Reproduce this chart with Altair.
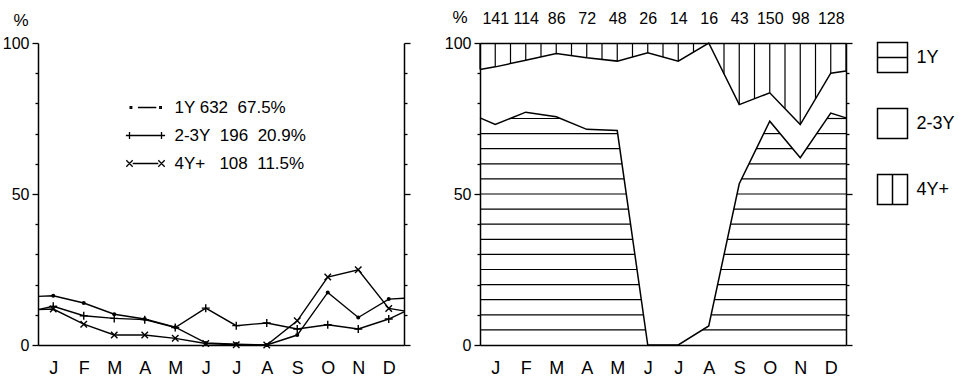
import json
import altair as alt
import numpy as np
import pandas as pd

FONT = "Liberation Sans"

# ---------------- data ----------------
months = ["J", "F", "M", "A", "M", "J", "J", "A", "S", "O", "N", "D"]
month_idx = list(range(1, 13))

# left panel: monthly share (%) of each age group's annual total
series_names = ["1Y", "2-3Y", "4Y+"]
pct_1y = [16.3, 13.9, 10.2, 8.6, 5.9, 0.7, 0.3, 0.0, 3.3, 17.4, 9.1, 15.2]
pct_23y = [12.8, 9.7, 8.8, 8.4, 5.8, 12.2, 6.4, 7.3, 5.3, 6.7, 5.3, 8.6]
pct_4y = [11.9, 6.9, 3.3, 3.3, 2.2, 0.5, 0.1, 0.0, 8.0, 22.5, 24.9, 12.1]
# values where the curves meet the left / right frame
edge_1y = [16.1, 15.5]
edge_23y = [11.7, 11.0]
edge_4y = [11.7, 11.3]
legend_left = ["1Y 632\u00a0\u00a067.5%", "2-3Y\u00a0\u00a0196\u00a0\u00a020.9%", "4Y+\u00a0\u00a0\u00a0108\u00a0\u00a011.5%"]

# right panel: monthly composition (cumulative %)
counts = [141, 114, 86, 72, 48, 26, 14, 16, 43, 150, 98, 128]
cum_1y = [73.0, 77.1, 75.6, 71.4, 71.0, 0.0, 0.0, 6.3, 53.4, 74.1, 62.0, 76.8]
cum_23y = [92.1, 94.3, 96.5, 95.1, 94.0, 96.8, 94.0, 100.0, 79.6, 83.5, 73.0, 90.0]
edge_cum_1y = [75.2, 75.2]
edge_cum_23y = [91.2, 90.7]
legend_right = ["1Y", "2-3Y", "4Y+"]

# ---------------- helpers ----------------
X_LO, X_HI = 0.5, 12.5
xs_full = [X_LO] + month_idx + [X_HI]


def full(edge, vals):
    return [edge[0]] + list(vals) + [edge[1]]


def xscale():
    return alt.Scale(domain=[X_LO, X_HI], nice=False, zero=False)


def yscale():
    return alt.Scale(domain=[0, 100], nice=False, zero=True)


W, H = 366, 302
tick_cond = {"condition": {"test": "datum.value % 50 === 0", "value": 6}, "value": 3}
month_expr = json.dumps(months) + "[round(datum.value) - 1]"
count_expr = json.dumps([str(c) for c in counts]) + "[round(datum.value) - 1]"
yvals = list(range(0, 101, 10))


def x_bottom():
    return alt.Axis(values=month_idx, labelExpr=month_expr, ticks=False, tickSize=0,
                    labelFontSize=18, labelPadding=14, labelAngle=0, title=None, grid=False)


def y_left(tx, ty):
    return alt.Axis(values=yvals, labelExpr="datum.value % 50 === 0 ? datum.label : ''",
                    tickSize=tick_cond, labelPadding=3, labelFontSize=16, grid=False,
                    title="%", titleAngle=0, titleX=tx, titleY=ty, titleFontSize=17,
                    titleFontWeight="normal", titleAlign="center", titleBaseline="middle")


def y_right():
    return alt.Axis(orient="right", values=yvals, labels=False, tickSize=tick_cond,
                    title=None, grid=False)


# ---------------- left panel ----------------
rows = []
for name, edge, vals in zip(series_names, [edge_1y, edge_23y, edge_4y], [pct_1y, pct_23y, pct_4y]):
    for x, v in zip(xs_full, full(edge, vals)):
        rows.append({"x": x, "v": v, "s": name})
line_df = pd.DataFrame(rows)

pts = []
for name, vals in zip(series_names, [pct_1y, pct_23y, pct_4y]):
    for x, v in zip(month_idx, vals):
        pts.append({"x": x, "v": v, "s": name})
pt_df = pd.DataFrame(pts)

left_lines = alt.Chart(line_df).mark_line(color="black", strokeWidth=1.4).encode(
    x=alt.X("x:Q", scale=xscale(), axis=x_bottom()),
    y=alt.Y("v:Q", scale=yscale(), axis=y_left(-17.5, -23)),
    detail="s:N",
)
left_raxis = alt.Chart(line_df).mark_line(opacity=0).encode(
    x=alt.X("x:Q", scale=xscale(), axis=None),
    y=alt.Y("v:Q", scale=yscale(), axis=y_right()),
    detail="s:N",
)

PLUS = "M-1,0H1M0,-1V1"
CROSS = "M-1,-1L1,1M-1,1L1,-1"
marker_specs = {
    "1Y": dict(shape="circle", size=16, filled=True),
    "2-3Y": dict(shape=PLUS, size=64, filled=False),
    "4Y+": dict(shape=CROSS, size=42, filled=False),
}
marker_layers = []
for name in series_names:
    spec = marker_specs[name]
    marker_layers.append(
        alt.Chart(pt_df).transform_filter(alt.datum.s == name).mark_point(
            color="black", strokeWidth=1.4, opacity=1, **spec
        ).encode(
            x=alt.X("x:Q", scale=xscale(), axis=None),
            y=alt.Y("v:Q", scale=yscale(), axis=None),
        )
    )

SYM_DOT = "M-1.92,-0.1h0.2v0.2h-0.2Z M-0.95,0H1.35 M1.78,-0.1h0.2v0.2h-0.2Z"
SYM_PLUS = "M-2.45,0H2.45 M-2,-0.45V0.45 M2,-0.45V0.45"
SYM_CROSS = ("M-2.4,-0.4L-1.6,0.4M-2.4,0.4L-1.6,-0.4M-1.6,0H1.6"
             "M1.6,-0.4L2.4,0.4M1.6,0.4L2.4,-0.4")
leg_left_df = pd.DataFrame({"lab": legend_left})
left_legend = alt.Chart(leg_left_df).transform_filter("false").mark_point(
    filled=False, color="black", strokeWidth=1.3
).encode(
    shape=alt.Shape(
        "lab:N",
        scale=alt.Scale(domain=legend_left, range=[SYM_DOT, SYM_PLUS, SYM_CROSS]),
        legend=alt.Legend(orient="none", legendX=98.5, legendY=55.5, title=None, padding=0,
                          symbolSize=256, symbolStrokeWidth=1.3, symbolOpacity=1,
                          symbolStrokeColor="black",
                          labelFont=FONT, labelFontSize=17, labelColor="black",
                          labelOffset=20, rowPadding=11, labelLimit=400),
    )
)

left = alt.layer(left_lines, left_raxis, *marker_layers, left_legend).resolve_axis(
    x="independent", y="independent"
).properties(width=W, height=H)

# ---------------- right panel ----------------
c1 = full(edge_cum_1y, cum_1y)
c2 = full(edge_cum_23y, cum_23y)


def above_intervals(xs, ys, lv):
    out = []
    start = xs[0] if ys[0] > lv else None
    for i in range(len(xs) - 1):
        x0, x1, y0, y1 = xs[i], xs[i + 1], ys[i], ys[i + 1]
        a0, a1 = y0 > lv, y1 > lv
        if a0 != a1:
            xc = x0 + (lv - y0) * (x1 - x0) / (y1 - y0)
            if a0:
                out.append((start, xc))
                start = None
            else:
                start = xc
    if start is not None:
        out.append((start, xs[-1]))
    return out


h_rows = []
for lv in range(5, 100, 5):
    for a, b in above_intervals(xs_full, c1, lv):
        h_rows.append({"xa": a, "xb": b, "lv": lv})
hatch_h_df = pd.DataFrame(h_rows)

xv = np.arange(X_LO, X_HI + 0.001, 0.5)
hatch_v_df = pd.DataFrame({"xv": xv, "ylo": np.interp(xv, xs_full, c2)})

bound_rows = []
for key, arr in [("c1", c1), ("c2", c2)]:
    for x, v in zip(xs_full, arr):
        bound_rows.append({"x": x, "v": v, "s": key})
bound_df = pd.DataFrame(bound_rows)

r_hatch_h = alt.Chart(hatch_h_df).mark_rule(color="black", strokeWidth=1.2).encode(
    x=alt.X("xa:Q", scale=xscale(), axis=None),
    x2="xb:Q",
    y=alt.Y("lv:Q", scale=yscale(), axis=None),
)
r_hatch_v = alt.Chart(hatch_v_df).mark_rule(color="black", strokeWidth=1.2).encode(
    x=alt.X("xv:Q", scale=xscale(), axis=None),
    y=alt.Y("ylo:Q", scale=yscale(), axis=None),
    y2=alt.datum(100),
)
r_lines = alt.Chart(bound_df).mark_line(color="black", strokeWidth=1.5).encode(
    x=alt.X("x:Q", scale=xscale(), axis=x_bottom()),
    y=alt.Y("v:Q", scale=yscale(), axis=y_left(-20.5, -26)),
    detail="s:N",
)
r_axes2 = alt.Chart(bound_df).mark_line(opacity=0).encode(
    x=alt.X("x:Q", scale=xscale(),
            axis=alt.Axis(orient="top", values=month_idx, labelExpr=count_expr, ticks=False,
                          tickSize=0, labelFontSize=16, labelPadding=17, labelAngle=0,
                          title=None, grid=False)),
    y=alt.Y("v:Q", scale=yscale(), axis=y_right()),
    detail="s:N",
)

BOX = "M-1,-1H1V1H-1Z"
leg_right_df = pd.DataFrame({"cat": legend_right})
right_legend = alt.Chart(leg_right_df).transform_filter("false").mark_point(
    filled=False, color="black", strokeWidth=1.5
).encode(
    shape=alt.Shape(
        "cat:N",
        scale=alt.Scale(domain=legend_right, range=[BOX + "M-1,0H1", BOX, BOX + "M0,-1V1"]),
        legend=alt.Legend(orient="none", legendX=396.5, legendY=-1.5, title=None, padding=0,
                          symbolSize=900, symbolStrokeWidth=1.5, symbolOpacity=1,
                          symbolStrokeColor="black", labelFont=FONT, labelFontSize=18,
                          labelColor="black", labelOffset=8, rowPadding=30),
    )
)

right = alt.layer(r_hatch_h, r_hatch_v, r_lines, r_axes2, right_legend).resolve_axis(
    x="independent", y="independent"
).properties(width=W, height=H)

chart = alt.hconcat(left, right, spacing=76, bounds="flush").resolve_scale(
    shape="independent"
).resolve_legend(shape="independent").properties(
    padding={"left": 2, "top": 8, "right": 0, "bottom": 0},
    background="white",
).configure_view(stroke=None).configure_axis(
    domainColor="black", domainWidth=1.5, tickColor="black", tickWidth=1.3,
    labelColor="black", labelFont=FONT, titleFont=FONT, titleColor="black",
)

chart.save("out.html", embed_options={"renderer": "svg", "actions": False})
